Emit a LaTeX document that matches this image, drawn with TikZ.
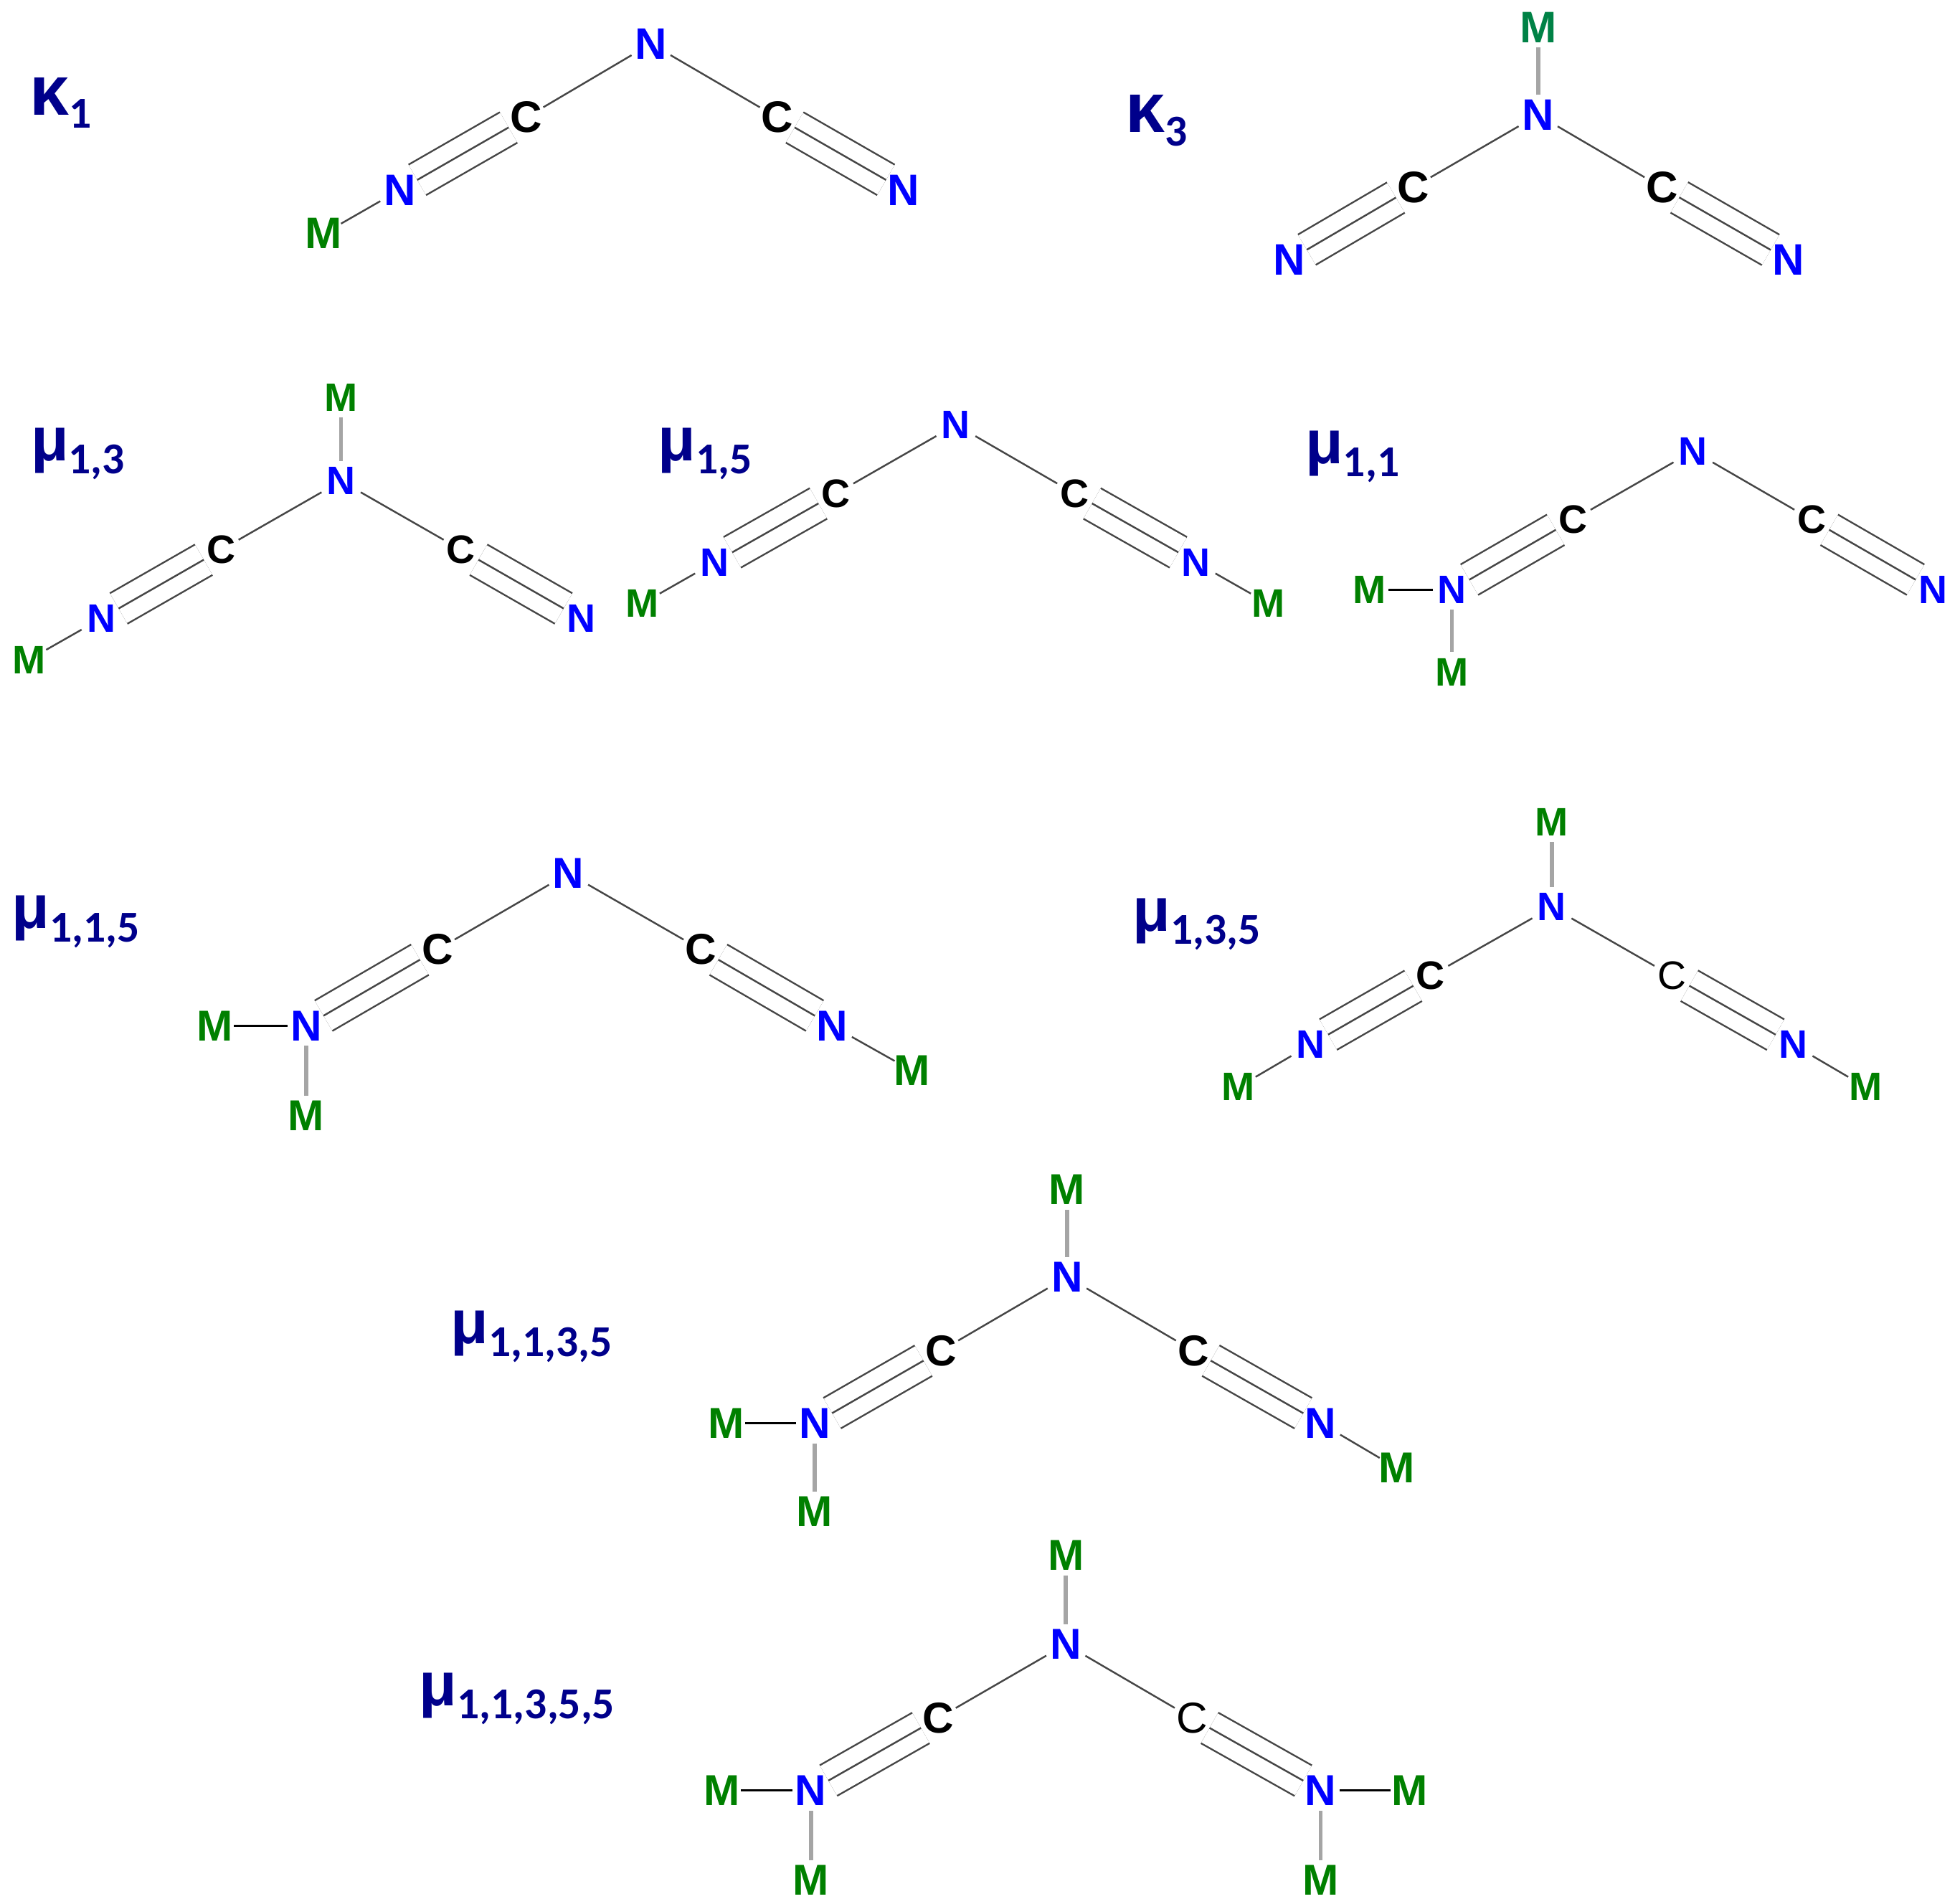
\documentclass[tikz,border=0pt]{standalone}
\usepackage{fontspec}
\setmainfont{Liberation Sans}
\newfontfamily\subfont{Carlito}[BoldFont={Carlito Bold}]
\definecolor{sitecol}{RGB}{0,0,139}
\definecolor{metalcol}{RGB}{0,128,0}
\definecolor{tealcol}{RGB}{0,130,70}
\definecolor{bondcol}{RGB}{70,70,70}
\definecolor{greybond}{RGB}{165,165,165}
\def\atomsz{9.8}
\newcommand{\sitelabel}[3]{{\fontsize{#3}{#3}\selectfont\bfseries #1}\raisebox{-3pt}{\subfont\fontsize{10}{10}\selectfont\bfseries #2}}
\tikzset{
  Natom/.style={inner sep=0pt,text=blue,font=\fontsize{\atomsz}{\atomsz}\selectfont\bfseries},
  Catom/.style={inner sep=0pt,text=black,font=\fontsize{\atomsz}{\atomsz}\selectfont\bfseries},
  Cthin/.style={inner sep=0pt,text=black,font=\fontsize{\atomsz}{\atomsz}\selectfont},
  Matom/.style={inner sep=0pt,text=metalcol,font=\fontsize{\atomsz}{\atomsz}\selectfont\bfseries},
  sitename/.style={inner sep=0pt,anchor=base west,text=sitecol},
  bond/.style={draw=bondcol,line width=0.4pt,shorten <=0.18cm,shorten >=0.16cm},
  triple/.style={draw=bondcol,line width=0.4pt,shorten <=0.16cm,shorten >=0.16cm},
  outer/.style={triple,double=white,double distance=0.265cm},
  hbond/.style={draw=black,line width=0.55pt,shorten <=0.15cm,shorten >=0.15cm},
  vbond/.style={draw=greybond,line width=0.9pt,shorten <=0.16cm,shorten >=0.16cm},
}
\newcommand{\ncnbonds}[5]{%
  \draw[bond] (#1) -- (#2);
  \draw[bond] (#1) -- (#3);
  \draw[outer] (#2) -- (#4);
  \draw[triple] (#2) -- (#4);
  \draw[outer] (#3) -- (#5);
  \draw[triple] (#3) -- (#5);
}
\begin{document}
\begin{tikzpicture}[x=0.009945cm,y=-0.009945cm]
\useasboundingbox (-1,0) rectangle (1567.6,1523.4);
% kappa 1
\begin{scope}
\def\atomsz{10}
\node[sitename] (aname) at (22,92) {\sitelabel{κ}{1}{16}};
\node[Natom] (aN) at (520,35) {N};
\node[Catom] (aCl) at (420,94) {C};
\node[Natom] (aNl) at (319,152) {N};
\node[Matom] (aMl) at (258,187) {M};
\node[Catom] (aCr) at (621,94) {C};
\node[Natom] (aNr) at (722,152) {N};
\ncnbonds{aN.center}{aCl.center}{aCr.center}{aNl.center}{aNr.center}
\draw[bond] (aNl.center) -- (aMl.center);
\end{scope}
% kappa 3
\begin{scope}
\def\atomsz{10}
\node[sitename] (bname) at (899,106) {\sitelabel{κ}{3}{16}};
\node[Matom,text=tealcol] (bMt) at (1230,22) {M};
\node[Natom] (bN) at (1230,92) {N};
\node[Catom] (bCl) at (1130,150) {C};
\node[Natom] (bNl) at (1031,208) {N};
\node[Catom] (bCr) at (1329,150) {C};
\node[Natom] (bNr) at (1430,208) {N};
\ncnbonds{bN.center}{bCl.center}{bCr.center}{bNl.center}{bNr.center}
\draw[vbond] (bN.center) -- (bMt.center);
\end{scope}
% mu 1,3
\begin{scope}
\def\atomsz{9}
\node[sitename] (cname) at (23,368.5) {\sitelabel{μ}{1,3}{14}};
\node[Matom] (cMt) at (272,318) {M};
\node[Natom] (cN) at (272,385) {N};
\node[Catom] (cCl) at (176,440) {C};
\node[Natom] (cNl) at (80,495) {N};
\node[Matom] (cMl) at (22,528) {M};
\node[Catom] (cCr) at (368,440) {C};
\node[Natom] (cNr) at (464,495) {N};
\ncnbonds{cN.center}{cCl.center}{cCr.center}{cNl.center}{cNr.center}
\draw[vbond] (cN.center) -- (cMt.center);
\draw[bond] (cNl.center) -- (cMl.center);
\end{scope}
% mu 1,5
\begin{scope}
\def\atomsz{9}
\node[sitename] (dname) at (525,368.5) {\sitelabel{μ}{1,5}{14}};
\node[Natom] (dN) at (764,340) {N};
\node[Catom] (dCl) at (668,395) {C};
\node[Natom] (dNl) at (571,450) {N};
\node[Matom] (dMl) at (513,483) {M};
\node[Catom] (dCr) at (859,395) {C};
\node[Natom] (dNr) at (956,450) {N};
\node[Matom] (dMr) at (1014,483) {M};
\ncnbonds{dN.center}{dCl.center}{dCr.center}{dNl.center}{dNr.center}
\draw[bond] (dNl.center) -- (dMl.center);
\draw[bond] (dNr.center) -- (dMr.center);
\end{scope}
% mu 1,1
\begin{scope}
\def\atomsz{9}
\node[sitename] (ename) at (1043,371) {\sitelabel{μ}{1,1}{14}};
\node[Natom] (eN) at (1354,361) {N};
\node[Catom] (eCl) at (1258,416) {C};
\node[Natom] (eNl) at (1161,472) {N};
\node[Matom] (eMw) at (1095,472) {M};
\node[Matom] (eMs) at (1161,538) {M};
\node[Catom] (eCr) at (1449,416) {C};
\node[Natom] (eNr) at (1546,472) {N};
\ncnbonds{eN.center}{eCl.center}{eCr.center}{eNl.center}{eNr.center}
\draw[hbond] (eNl.center) -- (eMw.center);
\draw[vbond] (eNl.center) -- (eMs.center);
\end{scope}
% mu 1,1,5
\node[sitename] (fname) at (8,743) {\sitelabel{μ}{1,1,5}{14}};
\node[Natom] (fN) at (454,699) {N};
\node[Catom] (fCl) at (349,760) {C};
\node[Natom] (fNl) at (244,821) {N};
\node[Matom] (fMw) at (171,821) {M};
\node[Matom] (fMs) at (244,893) {M};
\node[Catom] (fCr) at (560,760) {C};
\node[Natom] (fNr) at (665,821) {N};
\node[Matom] (fMr) at (729,857) {M};
\ncnbonds{fN.center}{fCl.center}{fCr.center}{fNl.center}{fNr.center}
\draw[hbond] (fNl.center) -- (fMw.center);
\draw[vbond] (fNl.center) -- (fMs.center);
\draw[bond] (fNr.center) -- (fMr.center);
% mu 1,3,5
\begin{scope}
\def\atomsz{9}
\node[sitename] (gname) at (905,745) {\sitelabel{μ}{1,3,5}{14}};
\node[Matom] (gMt) at (1241,658) {M};
\node[Natom] (gN) at (1241,726) {N};
\node[Catom] (gCl) at (1144,781) {C};
\node[Natom] (gNl) at (1048,836) {N};
\node[Matom] (gMl) at (990,870) {M};
\node[Cthin] (gCr) at (1337,781) {C};
\node[Natom] (gNr) at (1434,836) {N};
\node[Matom] (gMr) at (1492,870) {M};
\ncnbonds{gN.center}{gCl.center}{gCr.center}{gNl.center}{gNr.center}
\draw[vbond] (gN.center) -- (gMt.center);
\draw[bond] (gNl.center) -- (gMl.center);
\draw[bond] (gNr.center) -- (gMr.center);
\end{scope}
% mu 1,1,3,5
\node[sitename] (hname) at (359,1075) {\sitelabel{μ}{1,1,3,5}{14}};
\node[Matom] (hMt) at (853,952) {M};
\node[Natom] (hN) at (853,1022) {N};
\node[Catom] (hCl) at (752,1081) {C};
\node[Natom] (hNl) at (651,1139) {N};
\node[Matom] (hMw) at (580,1139) {M};
\node[Matom] (hMs) at (651,1210) {M};
\node[Catom] (hCr) at (954,1081) {C};
\node[Natom] (hNr) at (1056,1139) {N};
\node[Matom] (hMr) at (1117,1175) {M};
\ncnbonds{hN.center}{hCl.center}{hCr.center}{hNl.center}{hNr.center}
\draw[vbond] (hN.center) -- (hMt.center);
\draw[hbond] (hNl.center) -- (hMw.center);
\draw[vbond] (hNl.center) -- (hMs.center);
\draw[bond] (hNr.center) -- (hMr.center);
% mu 1,1,3,5,5
\node[sitename] (iname) at (334,1365) {\sitelabel{μ}{1,1,3,5,5}{14}};
\node[Matom] (iMt) at (852,1245) {M};
\node[Natom] (iN) at (852,1316) {N};
\node[Catom] (iCl) at (750,1375) {C};
\node[Natom] (iNl) at (648,1433) {N};
\node[Matom] (iMw) at (577,1433) {M};
\node[Matom] (iMs) at (648,1505) {M};
\node[Cthin] (iCr) at (953,1375) {C};
\node[Natom] (iNr) at (1056,1433) {N};
\node[Matom] (iMe) at (1127,1433) {M};
\node[Matom] (iMd) at (1056,1505) {M};
\ncnbonds{iN.center}{iCl.center}{iCr.center}{iNl.center}{iNr.center}
\draw[vbond] (iN.center) -- (iMt.center);
\draw[hbond] (iNl.center) -- (iMw.center);
\draw[vbond] (iNl.center) -- (iMs.center);
\draw[hbond] (iNr.center) -- (iMe.center);
\draw[vbond] (iNr.center) -- (iMd.center);
\end{tikzpicture}
\end{document}
